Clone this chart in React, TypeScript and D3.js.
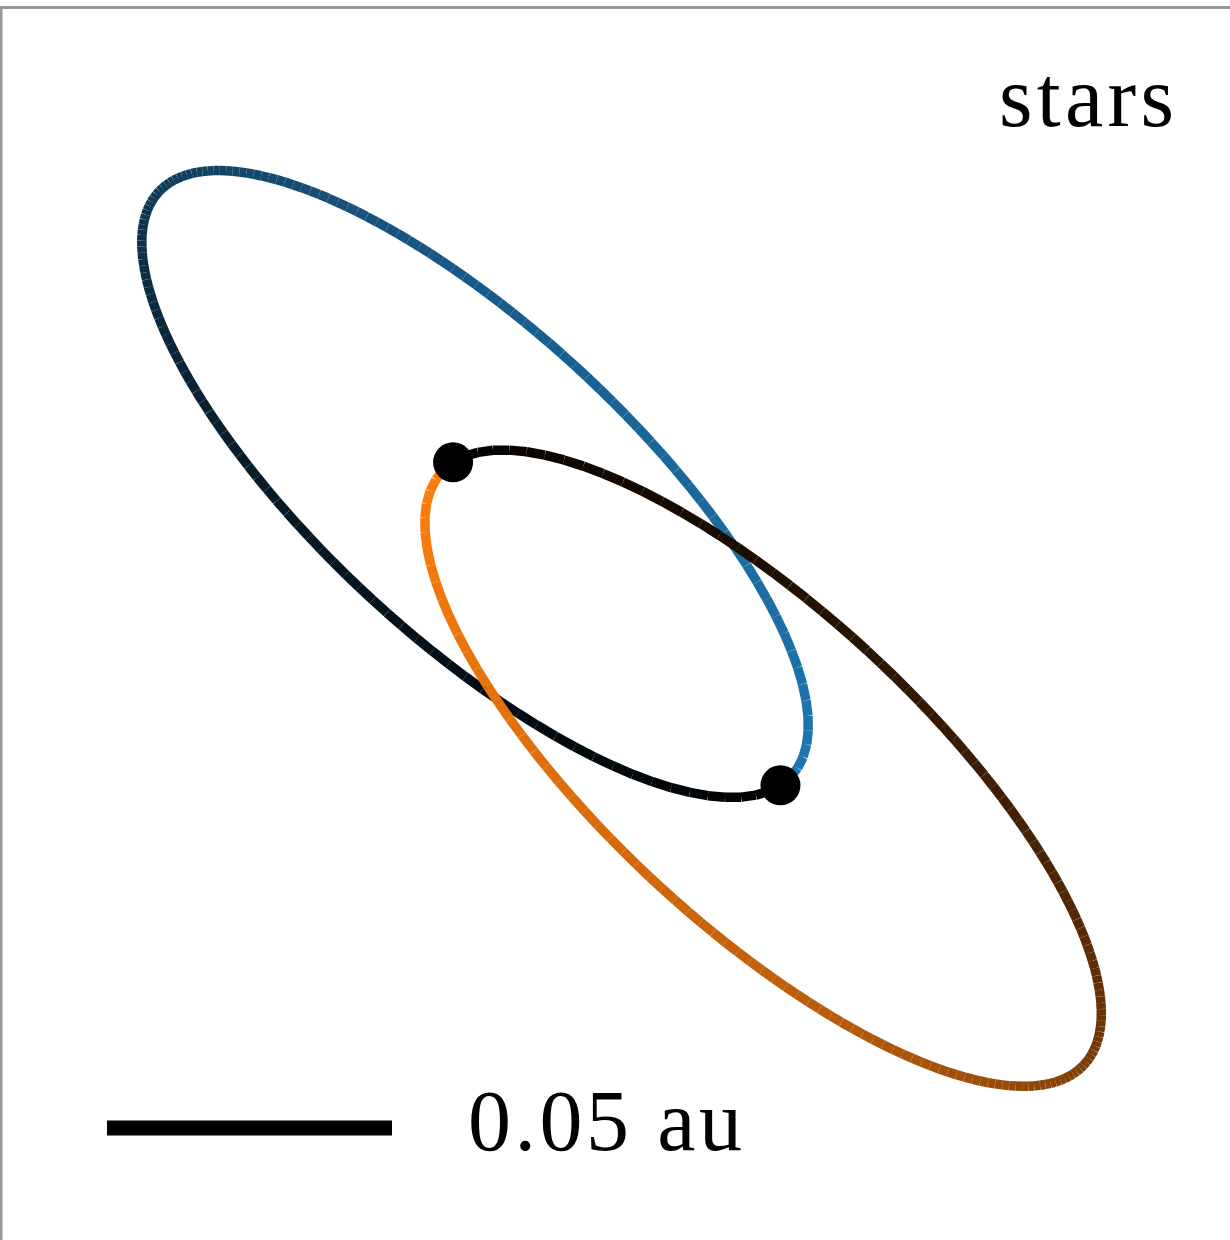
import React, { useMemo } from "react";
import * as d3 from "d3";

const WIDTH = 1230;
const HEIGHT = 1240;

// Projected Keplerian orbit of star A about the barycentre (au, y up).
// position(E) = semiDiameterA * (cos E - e) + semiDiameterB * sin E
const starNames = ["A", "B"];
const starColors = ["#1f77b4", "#ff7f0e"];
const eccentricity = 0.468;
const semiDiameterA = [0.05358, -0.05286];
const semiDiameterB = [-0.0234, -0.01516];
const massRatio = 1.015; // m_A / m_B, star B moves opposite to A scaled by this
const trailSteps = 150; // samples over one orbital period
const currentMeanAnomaly = 0;

const scaleBarAu = 0.05;
const scaleBarLabel = "0.05 au";
const panelLabel = "stars";

const xDomain = [-0.10842, 0.10737];
const yDomain = [-0.10789, 0.10965];

const serifFont = "'Liberation Serif', 'Times New Roman', 'DejaVu Serif', serif";

function eccentricAnomaly(M: number, e: number): number {
  let E = M;
  for (let k = 0; k < 30; k++) {
    E = E - (E - e * Math.sin(E) - M) / (1 - e * Math.cos(E));
  }
  return E;
}

function starA(M: number): [number, number] {
  const E = eccentricAnomaly(M, eccentricity);
  const c = Math.cos(E) - eccentricity;
  const s = Math.sin(E);
  return [
    semiDiameterA[0] * c + semiDiameterB[0] * s,
    semiDiameterA[1] * c + semiDiameterB[1] * s,
  ];
}

function starPosition(index: number, M: number): [number, number] {
  const [x, y] = starA(M);
  return index === 0 ? [x, y] : [-massRatio * x, -massRatio * y];
}

export default function App() {
  const x = d3.scaleLinear().domain(xDomain).range([0, WIDTH]);
  const y = d3.scaleLinear().domain(yDomain).range([HEIGHT, 0]);

  const trails = useMemo(() => {
    return starNames.map((_, si) => {
      const times = d3.range(trailSteps + 1).map(
        (i) => currentMeanAnomaly - 2 * Math.PI + (2 * Math.PI * i) / trailSteps
      );
      const pts = times.map((M) => starPosition(si, M));
      const colorAt = d3.interpolateRgb("#000000", starColors[si]);
      return d3.range(trailSteps).map((i) => ({
        p0: pts[i],
        p1: pts[i + 1],
        color: colorAt((i + 1) / trailSteps),
      }));
    });
  }, []);

  const current = starNames.map((_, si) => starPosition(si, currentMeanAnomaly));

  const barX0 = 107;
  const barX1 = barX0 + (x(scaleBarAu) - x(0));
  const barY = 1128;

  return (
    <svg
      width={WIDTH}
      height={HEIGHT}
      viewBox={`0 0 ${WIDTH} ${HEIGHT}`}
      style={{ position: "absolute", left: 0, top: 0, display: "block", background: "#ffffff" }}
    >
      <rect x={0} y={0} width={WIDTH} height={HEIGHT} fill="#ffffff" />
      {/* axes frame (only top and left edges fall inside the view) */}
      <line x1={0} x2={WIDTH} y1={7.5} y2={7.5} stroke="#999999" strokeWidth={3} />
      <line x1={1} x2={1} y1={6} y2={HEIGHT} stroke="#999999" strokeWidth={3} />

      {trails.map((segs, si) => (
        <g key={starNames[si]}>
          {segs.map((s, i) => (
            <line
              key={i}
              x1={x(s.p0[0])}
              y1={y(s.p0[1])}
              x2={x(s.p1[0])}
              y2={y(s.p1[1])}
              stroke={s.color}
              strokeWidth={9.5}
              strokeLinecap="butt"
            />
          ))}
        </g>
      ))}

      {current.map((p, si) => (
        <circle key={starNames[si]} cx={x(p[0])} cy={y(p[1])} r={20} fill="#000000" />
      ))}

      <line x1={barX0} x2={barX1} y1={barY} y2={barY} stroke="#000000" strokeWidth={15} />
      <text
        x={468}
        y={1150}
        style={{ fontFamily: serifFont, fontSize: "86px" }}
        textLength={274}
        lengthAdjust="spacing"
        fill="#000000"
      >
        {scaleBarLabel}
      </text>
      <text
        x={999}
        y={126}
        style={{ fontFamily: serifFont, fontSize: "86px" }}
        textLength={175}
        lengthAdjust="spacing"
        fill="#000000"
      >
        {panelLabel}
      </text>
    </svg>
  );
}
